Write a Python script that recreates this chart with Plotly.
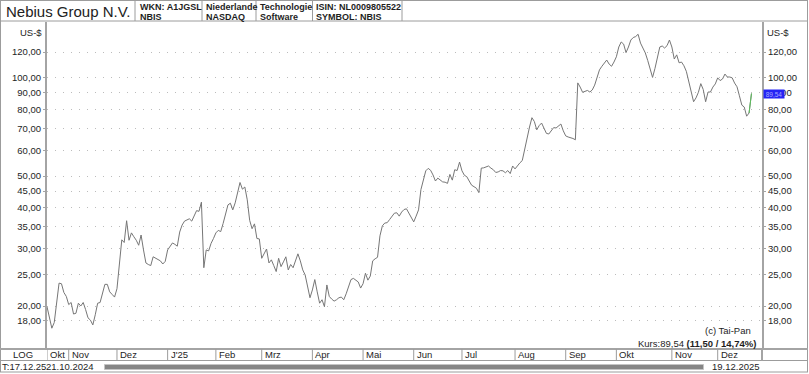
import math
import plotly.graph_objects as go

# ---------------- data ----------------
dates = [
    "2024-10-21", "2024-10-22", "2024-10-23", "2024-10-24", "2024-10-25", "2024-10-28", "2024-10-29", "2024-10-30", "2024-10-31",
    "2024-11-01", "2024-11-04", "2024-11-05", "2024-11-06", "2024-11-07", "2024-11-08", "2024-11-11", "2024-11-12", "2024-11-13",
    "2024-11-14", "2024-11-15", "2024-11-18", "2024-11-19", "2024-11-20", "2024-11-21", "2024-11-22", "2024-11-25", "2024-11-26",
    "2024-11-27", "2024-11-29",
    "2024-12-02", "2024-12-03", "2024-12-04", "2024-12-05", "2024-12-06", "2024-12-09", "2024-12-10", "2024-12-11", "2024-12-12",
    "2024-12-13", "2024-12-16", "2024-12-17", "2024-12-18", "2024-12-19", "2024-12-20", "2024-12-23", "2024-12-24", "2024-12-26",
    "2024-12-27", "2024-12-30", "2024-12-31",
    "2025-01-02", "2025-01-03", "2025-01-06", "2025-01-07", "2025-01-08", "2025-01-10", "2025-01-13", "2025-01-14", "2025-01-15",
    "2025-01-16", "2025-01-17", "2025-01-21", "2025-01-22", "2025-01-23", "2025-01-24", "2025-01-27", "2025-01-28", "2025-01-29",
    "2025-01-30", "2025-01-31",
    "2025-02-03", "2025-02-04", "2025-02-05", "2025-02-06", "2025-02-07", "2025-02-10", "2025-02-11", "2025-02-12", "2025-02-13",
    "2025-02-14", "2025-02-18", "2025-02-19", "2025-02-20", "2025-02-21", "2025-02-24", "2025-02-25", "2025-02-26", "2025-02-27",
    "2025-02-28",
    "2025-03-03", "2025-03-04", "2025-03-05", "2025-03-06", "2025-03-07", "2025-03-10", "2025-03-11", "2025-03-12", "2025-03-13",
    "2025-03-14", "2025-03-17", "2025-03-18", "2025-03-19", "2025-03-20", "2025-03-21", "2025-03-24", "2025-03-25", "2025-03-26",
    "2025-03-27", "2025-03-28", "2025-03-31",
    "2025-04-01", "2025-04-02", "2025-04-03", "2025-04-04", "2025-04-07", "2025-04-08", "2025-04-09", "2025-04-10", "2025-04-11",
    "2025-04-14", "2025-04-15", "2025-04-16", "2025-04-17", "2025-04-21", "2025-04-22", "2025-04-23", "2025-04-24", "2025-04-25",
    "2025-04-28", "2025-04-29", "2025-04-30",
    "2025-05-01", "2025-05-02", "2025-05-05", "2025-05-06", "2025-05-07", "2025-05-08", "2025-05-09", "2025-05-12", "2025-05-13",
    "2025-05-14", "2025-05-15", "2025-05-16", "2025-05-19", "2025-05-20", "2025-05-21", "2025-05-22", "2025-05-23", "2025-05-27",
    "2025-05-28", "2025-05-29", "2025-05-30",
    "2025-06-02", "2025-06-03", "2025-06-04", "2025-06-05", "2025-06-06", "2025-06-09", "2025-06-10", "2025-06-11", "2025-06-12",
    "2025-06-13", "2025-06-16", "2025-06-17", "2025-06-18", "2025-06-20", "2025-06-23", "2025-06-24", "2025-06-25", "2025-06-26",
    "2025-06-27", "2025-06-30",
    "2025-07-01", "2025-07-02", "2025-07-03", "2025-07-07", "2025-07-08", "2025-07-09", "2025-07-10", "2025-07-11", "2025-07-14",
    "2025-07-15", "2025-07-16", "2025-07-17", "2025-07-18", "2025-07-21", "2025-07-22", "2025-07-23", "2025-07-24", "2025-07-25",
    "2025-07-28", "2025-07-29", "2025-07-30", "2025-07-31",
    "2025-08-01", "2025-08-04", "2025-08-05", "2025-08-06", "2025-08-08", "2025-08-11", "2025-08-12", "2025-08-13", "2025-08-14",
    "2025-08-15", "2025-08-18", "2025-08-19", "2025-08-20", "2025-08-21", "2025-08-22", "2025-08-25", "2025-08-26", "2025-08-27",
    "2025-08-28", "2025-08-29",
    "2025-09-02", "2025-09-03", "2025-09-04", "2025-09-05", "2025-09-08", "2025-09-09", "2025-09-10", "2025-09-11", "2025-09-12",
    "2025-09-15", "2025-09-16", "2025-09-17", "2025-09-18", "2025-09-19", "2025-09-22", "2025-09-23", "2025-09-24", "2025-09-25",
    "2025-09-26", "2025-09-29", "2025-09-30",
    "2025-10-01", "2025-10-02", "2025-10-03", "2025-10-06", "2025-10-07", "2025-10-08", "2025-10-09", "2025-10-10", "2025-10-13",
    "2025-10-14", "2025-10-15", "2025-10-16", "2025-10-17", "2025-10-20", "2025-10-21", "2025-10-22", "2025-10-23", "2025-10-24",
    "2025-10-27", "2025-10-28", "2025-10-29", "2025-10-30", "2025-10-31",
    "2025-11-03", "2025-11-04", "2025-11-05", "2025-11-06", "2025-11-07", "2025-11-10", "2025-11-11", "2025-11-12", "2025-11-13",
    "2025-11-14", "2025-11-17", "2025-11-18", "2025-11-19", "2025-11-20", "2025-11-21", "2025-11-24", "2025-11-25", "2025-11-26",
    "2025-11-28",
    "2025-12-01", "2025-12-02", "2025-12-03", "2025-12-04", "2025-12-05", "2025-12-08", "2025-12-09", "2025-12-10", "2025-12-11",
    "2025-12-12", "2025-12-15", "2025-12-16", "2025-12-17", "2025-12-18", "2025-12-19",
]

close = [
    19.9, 18.4, 17.1, 17.8, 20.9, 23.5, 23.4, 22.0, 21.4,
    20.2, 20.5, 18.9, 19.0, 20.4, 20.0, 20.5, 19.5, 18.4,
    18.1, 17.5, 18.8, 20.4, 20.5, 22.1, 23.3, 23.3, 22.1,
    21.7, 21.3,
    22.6, 26.8, 31.9, 31.3, 36.5, 31.8, 33.5, 32.6, 31.8,
    30.7, 33.0, 29.7, 27.1, 26.8, 26.6, 28.3, 28.0, 27.8,
    27.5, 26.9, 27.4,
    29.7, 30.6, 31.2, 30.9, 30.5, 33.7, 35.4, 36.4, 36.8,
    37.0, 36.4, 37.7, 39.2, 39.0, 41.6, 26.2, 29.7, 29.5,
    31.1, 32.2,
    33.5, 34.1, 33.8, 35.8, 37.9, 40.8, 41.3, 39.4, 41.4,
    44.4, 47.8, 45.6, 46.3, 42.3, 36.6, 34.5, 35.7, 32.2,
    32.1,
    28.0, 28.9, 29.9, 27.1, 27.7, 26.6, 25.5, 28.0, 26.4,
    27.3, 28.3, 25.8, 26.8, 26.2, 27.7, 28.9, 27.5, 25.8,
    24.9, 22.9, 21.2,
    22.4, 24.1, 22.1, 20.4, 20.9, 19.9, 23.2, 21.4, 21.0,
    20.7, 20.9, 21.2, 21.3, 20.9, 21.8, 23.1, 24.1, 24.3,
    24.0, 23.7, 22.7,
    23.4, 25.2, 24.0, 24.7, 27.5, 27.9, 28.2, 32.8, 35.2,
    35.9, 36.0, 36.8, 37.7, 38.5, 38.6, 37.7, 38.8, 39.5,
    39.7, 38.5, 37.2,
    36.2, 37.7, 39.4, 45.5, 48.3, 51.9, 52.8, 52.1, 50.4,
    48.3, 49.3, 48.6, 48.0, 47.9, 47.5, 50.6, 48.6, 52.3,
    52.0, 55.2,
    51.9, 50.3, 49.8, 48.3, 46.9, 46.4, 45.9, 44.5, 52.9,
    53.0, 53.4, 53.7, 52.9, 52.3, 51.3, 51.5, 52.0, 51.9,
    51.2, 52.0, 50.9, 53.7,
    52.6, 54.0, 54.9, 55.8, 66.4, 70.7, 75.5, 73.5, 69.3,
    71.4, 72.7, 69.8, 67.6, 67.3, 69.1, 70.4, 70.2, 71.2,
    72.2, 68.8,
    66.4, 65.9, 65.7, 65.2, 64.6, 96.5, 93.7, 90.3, 90.9,
    91.5, 90.5, 91.8, 95.0, 99.7, 105.8, 108.5, 111.1, 113.4,
    110.2, 108.5, 111.8,
    116.0, 124.3, 128.8, 126.9, 119.5, 124.3, 130.6, 132.9, 133.8,
    136.0, 127.8, 123.4, 119.2, 113.0, 107.3, 100.3, 106.9, 116.0,
    124.3, 125.2, 123.4, 125.5, 130.6,
    124.3, 114.2, 117.6, 111.2, 111.8, 108.9, 104.7, 97.1, 90.3,
    84.5, 86.8, 90.3, 96.0, 92.1, 84.5, 90.5, 90.5, 93.7,
    95.8,
    100.0, 98.1, 99.2, 102.7, 100.6, 100.6, 100.0, 96.4, 93.9,
    88.1, 82.5, 81.4, 76.3, 78.04, 89.54,
]

# US market holidays in the range (trading-day axis)
holidays = ["2024-11-28", "2024-12-25", "2025-01-01", "2025-01-09", "2025-01-20", "2025-02-17",
            "2025-04-18", "2025-05-26", "2025-06-19", "2025-07-04", "2025-09-01", "2025-11-27",
            "2025-12-25"]

month_starts = ["2024-10-21", "2024-11-01", "2024-12-02", "2025-01-02", "2025-02-03", "2025-03-03",
                "2025-04-01", "2025-05-01", "2025-06-02", "2025-07-01", "2025-08-01", "2025-09-02",
                "2025-10-01", "2025-11-03", "2025-12-01"]
month_labels = ["Okt", "Nov", "Dez", "J'25", "Feb", "Mrz", "Apr", "Mai", "Jun", "Jul", "Aug", "Sep",
                "Okt", "Nov", "Dez"]

y_ticks = [18, 20, 25, 30, 35, 40, 45, 50, 60, 70, 80, 90, 100, 120]
y_tick_labels = ["18,00", "20,00", "25,00", "30,00", "35,00", "40,00", "45,00", "50,00",
                 "60,00", "70,00", "80,00", "90,00", "100,00", "120,00"]

header_cells = [
    ("WKN: A1JGSL", "NBIS"),
    ("Niederlande", "NASDAQ"),
    ("Technologie", "Software"),
    ("ISIN: NL0009805522", "SYMBOL: NBIS"),
]

# ---------------- layout geometry ----------------
W, H = 809, 374
ML, MR, MT, MB = 47, 47, 22, 25
PW = W - ML - MR
PH = H - MT - MB
X_RANGE = ["2024-10-21", "2025-12-26 08:40"]
Y_RANGE = [1.1693, 2.1711]

FONT = "Liberation Sans, Arial, sans-serif"
GRID = "#bcbcbc"
TXT = "#1e1e1e"


def px(x):
    return (x - ML) / PW


def py(y):
    return (H - MB - y) / PH


def de(v):
    return f"{v:.2f}".replace(".", ",")


fig = go.Figure()
fig.add_trace(go.Scatter(x=dates, y=close, mode="lines",
                         line=dict(color="#767676", width=1), hoverinfo="skip", showlegend=False))
fig.add_trace(go.Scatter(x=dates[-2:], y=close[-2:], mode="lines",
                         line=dict(color="#5cbf5c", width=1), hoverinfo="skip", showlegend=False))
fig.add_trace(go.Scatter(x=dates[-1:], y=close[-1:], yaxis="y2", mode="markers",
                         marker=dict(opacity=0), hoverinfo="skip", showlegend=False))

yaxis_common = dict(type="log", range=Y_RANGE, tickmode="array", tickvals=y_ticks, ticktext=y_tick_labels,
                    showline=True, linecolor="#a4a4a4", linewidth=2, ticks="outside", ticklen=2,
                    tickcolor="#a4a4a4", tickfont=dict(size=9.5, color=TXT, family=FONT),
                    zeroline=False, fixedrange=True)

fig.update_layout(
    width=W, height=H,
    margin=dict(l=ML, r=MR, t=MT, b=MB, pad=0),
    paper_bgcolor="white", plot_bgcolor="white",
    font=dict(family=FONT, color=TXT),
    xaxis=dict(type="date", range=X_RANGE,
               rangebreaks=[dict(bounds=["sat", "mon"]), dict(values=holidays)],
               showgrid=False, showticklabels=False, ticks="", showline=False, zeroline=False,
               fixedrange=True),
    yaxis=dict(**yaxis_common, side="left", showgrid=True, gridcolor=GRID, gridwidth=1,
               griddash="1px,7px"),
    yaxis2=dict(**yaxis_common, side="right", overlaying="y", showgrid=False),
    showlegend=False,
)

shapes = []
line_col = "#9c9c9c"


def hline(y, x0=0, x1=808, color=line_col, w=1):
    shapes.append(dict(type="line", xref="paper", yref="paper", x0=px(x0), x1=px(x1), y0=py(y), y1=py(y),
                       line=dict(color=color, width=w)))


def vline(x, y0, y1, color=line_col, w=1):
    shapes.append(dict(type="line", xref="paper", yref="paper", x0=px(x), x1=px(x), y0=py(y0), y1=py(y1),
                       line=dict(color=color, width=w)))


# frame and header
hline(0.5)
hline(21)
vline(0.5, 0, 372)
vline(807.5, 0, 372)
for xs in [135, 202, 256, 312.5, 402]:
    vline(xs, 0, 21)
# bottom rows
hline(349, color="#a4a4a4", w=2)
hline(360.5)
hline(372)
vline(762, 349, 360.5, color="#a4a4a4", w=2)
for ms in month_starts:
    shapes.append(dict(type="line", xref="x", yref="paper", x0=ms, x1=ms, y0=py(360.5), y1=py(349),
                       line=dict(color=line_col, width=1)))
# scrollbar
shapes.append(dict(type="rect", xref="paper", yref="paper", x0=px(104.5), x1=px(703.5), y0=py(369.5), y1=py(364.5),
                   fillcolor="#858585", line=dict(color="#c4c4c4", width=1)))

annotations = []


def txt(text, x, y, anchor="left", size=9.5, color=TXT, **kw):
    annotations.append(dict(text=text, xref="paper", yref="paper", x=px(x), y=py(y), xanchor=anchor,
                            yanchor="middle", showarrow=False, font=dict(size=size, color=color, family=FONT), **kw))


txt("Nebius Group N.V.", 4, 11.5, size=15, color="#222222")
cell_x = [137.5, 203.5, 257.5, 314]
for (a, b), cx in zip(header_cells, cell_x):
    txt("<b>" + a + "</b>", cx, 6.5, size=9)
    txt("<b>" + b + "</b>", cx, 17, size=9)

txt("US-$", 44, 32.5, anchor="right")
txt("US-$", 765, 32.5, anchor="left")

txt("LOG", 22.5, 355, anchor="center", size=9.5)
for ms, lab in zip(month_starts, month_labels):
    annotations.append(dict(text=lab, xref="x", yref="paper", x=ms, y=py(355), xanchor="left", xshift=1,
                            yanchor="middle", showarrow=False, font=dict(size=9.5, color=TXT, family=FONT)))


def fmt_date(d):
    y, m, dd = d.split("-")
    return f"{dd}.{m}.{y}"


txt("T:17.12.25", 0, 366.5, size=9.5)
txt(fmt_date(dates[0]), 43.5, 366.5, size=9.5)
txt(fmt_date(dates[-1]), 761.5, 366.5, anchor="right", size=9.5)

last, prev = close[-1], close[-2]
chg = last - prev
pct = chg / prev * 100
txt("(c) Tai-Pan", 752.5, 330, anchor="right", size=9.5)
txt(f"Kurs:{de(last)} <b>({de(chg)} / {de(pct)}%)</b>", 758, 343, anchor="right", size=9.5)

# current price marker on the right axis (covers part of the 90,00 label, as in the original)
annotations.append(dict(text=de(last), xref="paper", yref="y", x=px(763), y=math.log10(last),
                        xanchor="left", yanchor="middle", showarrow=False, width=20, height=8, borderpad=0,
                        bgcolor="#2424f4", font=dict(size=6.5, color="#a8a8ff", family=FONT)))

fig.update_layout(shapes=shapes, annotations=annotations)

fig.write_html("out.html")
